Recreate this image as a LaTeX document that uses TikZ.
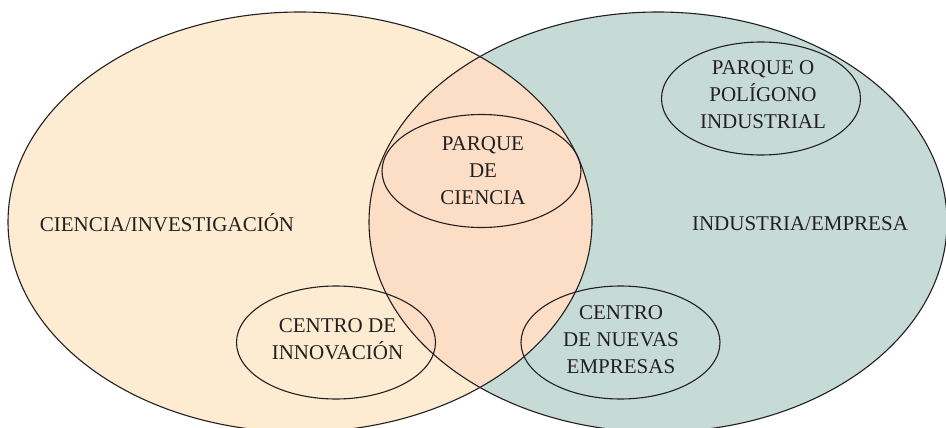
\documentclass[tikz,border=0pt]{standalone}
\usepackage{fontspec}
\setmainfont{Liberation Serif}
\usetikzlibrary{shapes.geometric}
\definecolor{leftfill}{HTML}{FEECD2}
\definecolor{rightfill}{HTML}{C6DBD6}
\definecolor{midfill}{HTML}{FCDEC6}
\definecolor{inkline}{HTML}{231F20}
\tikzset{
  outline/.style={draw=inkline, line width=1.1pt},
  subset/.style={ellipse, draw=inkline, line width=1.1pt, inner sep=0pt, minimum width=199pt, minimum height=113pt},
  label/.style={text=inkline, align=center, inner sep=0pt, font=\fontsize{21}{26.7}\selectfont},
}
\begin{document}
\begin{tikzpicture}[x=1pt, y=-1pt]
\useasboundingbox (0,0) rectangle (946,428);
\clip (0,0) rectangle (946,428);
% big sets
\fill[leftfill] (300,222) ellipse [x radius=292, y radius=210];
\fill[rightfill] (658,222) ellipse [x radius=289, y radius=210];
\begin{scope}
  \clip (300,222) ellipse [x radius=292, y radius=210];
  \fill[midfill] (658,222) ellipse [x radius=289, y radius=210];
\end{scope}
\draw[outline] (300,222) ellipse [x radius=292, y radius=210];
\draw[outline] (658,222) ellipse [x radius=289, y radius=210];
% set labels
\node[label, anchor=base] (ciencia) at (167,231) {CIENCIA/INVESTIGACIÓN};
\node[label, anchor=base] (industria) at (800,230) {INDUSTRIA/EMPRESA};
% subsets
\node[subset] (e1) at (481.5,171) {};
\node[subset] (e2) at (761,98.5) {};
\node[subset] (e3) at (336,342.5) {};
\node[subset] (e4) at (620.5,342.5) {};
\node[label] (t1) at (483,170.7) {PARQUE\\DE\\CIENCIA};
\node[label] (t2) at (763,94.7) {PARQUE O\\POLÍGONO\\INDUSTRIAL};
\node[label] (t3) at (337.5,339.4) {CENTRO DE\\INNOVACIÓN};
\node[label] (t4) at (621,339.7) {CENTRO\\DE NUEVAS\\EMPRESAS};
\end{tikzpicture}
\end{document}
